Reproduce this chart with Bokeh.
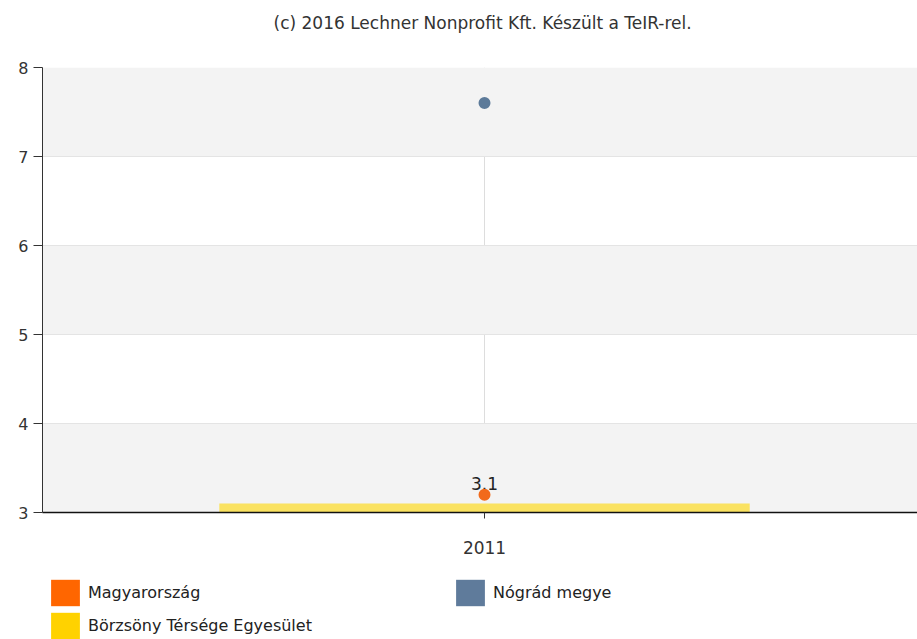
from bokeh.plotting import figure
from bokeh.models import (ColumnDataSource, FixedTicker, Legend, LegendItem, Range1d, Label)
from bokeh.layouts import column
from bokeh.core.properties import value
from bokeh.embed import file_html
from bokeh.resources import INLINE

# ---- data ----
years = ["2011"]
magyarorszag = [3.2]
nograd = [7.6]
borzsony = [3.1]
y_ticks = [3, 4, 5, 6, 7, 8]
title_text = "(c) 2016 Lechner Nonprofit Kft. Készült a TeIR-rel."
series_names = ["Magyarország", "Nógrád megye", "Börzsöny Térsége Egyesület"]
series_colors = ["#FF6600", "#5F7B9B", "#FFD200"]

FONT = "DejaVu Sans"
W = 917
x_pos = list(range(len(years)))


def strip(h):
    f = figure(width=W, height=h, output_backend="svg", toolbar_location=None,
               x_range=Range1d(0, 1), y_range=Range1d(0, 1),
               x_axis_location=None, y_axis_location=None,
               min_border_left=0, min_border_right=0, min_border_top=0,
               min_border_bottom=0)
    f.grid.visible = False
    f.outline_line_color = None
    f.border_fill_color = "white"
    f.background_fill_color = "white"
    return f


# ---- title strip ----
tf = strip(50)
tf.add_layout(Label(x=231, y=28, x_units="screen", y_units="screen", text=title_text,
                    text_font=FONT, text_font_size="17px", text_color="#333333",
                    text_align="left", text_baseline="middle"))

# ---- main chart ----
p = figure(width=W, height=522, output_backend="svg", toolbar_location=None,
           x_range=Range1d(-0.5, 0.4898), y_range=Range1d(3, 8),
           min_border_left=42, min_border_right=0, min_border_top=17,
           min_border_bottom=60)
p.outline_line_color = None
p.background_fill_color = "white"
p.border_fill_color = "white"

# grid / bands: tiny extra tick just above 3 so the shaded bands are 3-4, 5-6, 7-8
p.ygrid.ticker = FixedTicker(ticks=[y_ticks[0], y_ticks[0] + 1e-6] + y_ticks[1:])
p.ygrid.grid_line_color = "#e4e4e4"
p.ygrid.band_fill_color = "#f3f3f3"
p.ygrid.band_fill_alpha = 1.0
p.xgrid.ticker = FixedTicker(ticks=x_pos)
p.xgrid.grid_line_color = "#dddddd"

# axes
p.yaxis.ticker = FixedTicker(ticks=y_ticks)
p.yaxis.axis_line_color = "#333333"
p.yaxis.major_tick_line_color = "#333333"
p.yaxis.major_tick_out = 9
p.yaxis.major_tick_in = 0
p.yaxis.minor_tick_line_color = None
p.yaxis.major_label_text_font = FONT
p.yaxis.major_label_text_font_size = "16px"
p.yaxis.major_label_text_color = "#333333"
p.yaxis.major_label_standoff = 5

p.xaxis.ticker = FixedTicker(ticks=x_pos)
p.xaxis.major_label_overrides = {i: y for i, y in zip(x_pos, years)}
p.xaxis.axis_line_color = "#111111"
p.xaxis.axis_line_width = 1.5
p.xaxis.major_tick_line_color = "#333333"
p.xaxis.major_tick_out = 6
p.xaxis.major_tick_in = 0
p.xaxis.minor_tick_line_color = None
p.xaxis.major_label_text_font = FONT
p.xaxis.major_label_text_font_size = "17px"
p.xaxis.major_label_text_color = "#333333"
p.xaxis.major_label_standoff = 22

# bar series
src_bar = ColumnDataSource(dict(x=x_pos, top=borzsony, lbl=[str(v) for v in borzsony]))
p.vbar(x="x", top="top", bottom=3, width=0.6, source=src_bar,
       fill_color="#FFD700", fill_alpha=0.6, line_color=None)
p.text(x="x", y="top", text="lbl", source=src_bar, text_align="center",
       text_baseline="alphabetic", y_offset=-20, text_font=value(FONT),
       text_font_size="17px", text_color="#222222")

# points
p.scatter(x=x_pos, y=magyarorszag, size=12, fill_color="#F26A1B", line_color=None)
p.scatter(x=x_pos, y=nograd, size=12, fill_color="#5C7A99", line_color=None)

# ---- legend strip ----
lf = strip(67)
proxies = []
for c in series_colors:
    # swatch proxies placed outside the visible range; only their legend glyph shows
    r = lf.quad(left=[10], right=[11], top=[11], bottom=[10], fill_color=c, line_color=None)
    proxies.append(r)

common = dict(glyph_width=36, glyph_height=33, spacing=0, padding=0, margin=0,
              label_standoff=5, border_line_color=None, background_fill_alpha=0,
              label_text_font=FONT, label_text_font_size="16px",
              label_text_color="#222222")
leg1 = Legend(items=[LegendItem(label=series_names[0], renderers=[proxies[0]]),
                     LegendItem(label=series_names[2], renderers=[proxies[2]])],
              location=(5, -3), **common)
leg2 = Legend(items=[LegendItem(label=series_names[1], renderers=[proxies[1]])],
              location=(410, 30), **common)
lf.add_layout(leg1)
lf.add_layout(leg2)

layout = column(tf, p, lf, spacing=0)
open("out.html", "w").write(file_html(layout, INLINE))
